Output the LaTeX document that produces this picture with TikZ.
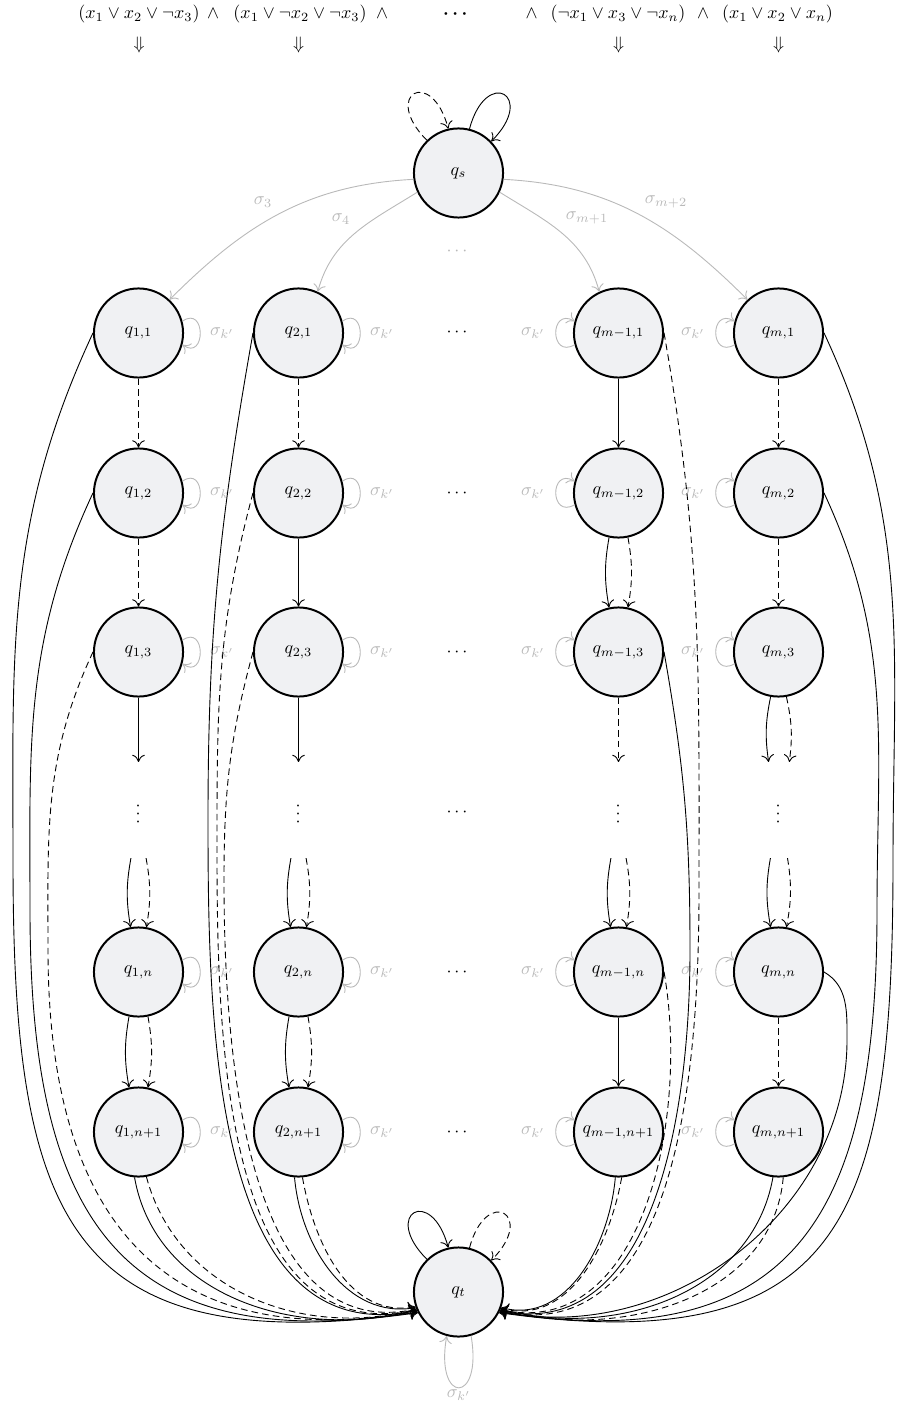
\documentclass[tikz,border=0pt]{standalone}
\usepackage{amsmath}
\usetikzlibrary{arrows.meta}
\definecolor{statefill}{RGB}{240,241,243}
\definecolor{soft}{RGB}{185,185,185}
\newcommand{\coldots}{\rotatebox{90}{$\cdots$}}
\begin{document}
\begin{tikzpicture}[x=0.5556pt,y=-0.5556pt,
  >={Computer Modern Rightarrow[length=4pt,width=7pt]},
  statenode/.style={circle,draw,line width=1.1pt,fill=statefill,minimum size=49.5pt,inner sep=0pt},
  vdotsnode/.style={inner sep=0pt},
  tr/.style={->,line width=0.5pt},
  trd/.style={->,line width=0.5pt,dash pattern=on 3.7pt off 2.3pt},
  soft edge/.style={->,line width=0.5pt,draw=soft},
  softlabel/.style={text=soft,inner sep=1pt},
]
\useasboundingbox (0,0) rectangle (902,1413);

% clauses of the formula
\node (f1) at (139,14) {$(x_1\vee x_2\vee\neg x_3)$};
\node (f2) at (213,14) {$\wedge$};
\node (f3) at (300,14) {$(x_1\vee\neg x_2\vee\neg x_3)$};
\node (f4) at (382,14) {$\wedge$};
\node (f5) at (457,14) {$\boldsymbol{\cdots}$};
\node (f6) at (531.5,14) {$\wedge$};
\node (f7) at (618,14) {$(\neg x_1\vee x_3\vee\neg x_n)$};
\node (f8) at (703,14) {$\wedge$};
\node (f9) at (777.5,14) {$(x_1\vee x_2\vee x_n)$};
\node (g1) at (139,45) {$\Downarrow$};
\node (g2) at (298.5,45) {$\Downarrow$};
\node (g3) at (618.5,45) {$\Downarrow$};
\node (g4) at (778.5,45) {$\Downarrow$};

% states
\node[statenode] (qs) at (458.5,173) {$q_s$};
\node[statenode] (qt) at (458.5,1292) {$q_t$};

\node[statenode] (a1) at (138.5,333) {$q_{1,1}$};
\node[statenode] (a2) at (138.5,493) {$q_{1,2}$};
\node[statenode] (a3) at (138.5,652) {$q_{1,3}$};
\node[vdotsnode] (av) at (138.5,812) {\coldots};
\node[statenode] (an) at (138.5,972) {$q_{1,n}$};
\node[statenode] (ap) at (138.5,1132) {$q_{1,n+1}$};

\node[statenode] (b1) at (298.5,333) {$q_{2,1}$};
\node[statenode] (b2) at (298.5,493) {$q_{2,2}$};
\node[statenode] (b3) at (298.5,652) {$q_{2,3}$};
\node[vdotsnode] (bv) at (298.5,812) {\coldots};
\node[statenode] (bn) at (298.5,972) {$q_{2,n}$};
\node[statenode] (bp) at (298.5,1132) {$q_{2,n+1}$};

\node[statenode] (c1) at (618.5,333) {$q_{m-1,1}$};
\node[statenode] (c2) at (618.5,493) {$q_{m-1,2}$};
\node[statenode] (c3) at (618.5,652) {$q_{m-1,3}$};
\node[vdotsnode] (cv) at (618.5,812) {\coldots};
\node[statenode] (cn) at (618.5,972) {$q_{m-1,n}$};
\node[statenode] (cp) at (618.5,1132) {$q_{m-1,n+1}$};

\node[statenode] (d1) at (778.5,333) {$q_{m,1}$};
\node[statenode] (d2) at (778.5,493) {$q_{m,2}$};
\node[statenode] (d3) at (778.5,652) {$q_{m,3}$};
\node[vdotsnode] (dv) at (778.5,812) {\coldots};
\node[statenode] (dn) at (778.5,972) {$q_{m,n}$};
\node[statenode] (dp) at (778.5,1132) {$q_{m,n+1}$};

% ends of the arrows around the vertical dots
\coordinate (avi) at ([yshift=27.8pt]av.center);
\coordinate (avo) at ([yshift=-25.6pt]av.center);
\coordinate (bvi) at ([yshift=27.8pt]bv.center);
\coordinate (bvo) at ([yshift=-25.6pt]bv.center);
\coordinate (cvi) at ([yshift=27.8pt]cv.center);
\coordinate (cvo) at ([yshift=-25.6pt]cv.center);
\coordinate (dvi) at ([yshift=27.8pt]dv.center);
\coordinate (dvo) at ([yshift=-25.6pt]dv.center);

% middle column
\node[text=soft] (hs) at (458.5,252) {$\cdots$};
\node (h1) at (458.5,333) {$\cdots$};
\node (h2) at (458.5,493) {$\cdots$};
\node (h3) at (458.5,652) {$\cdots$};
\node (hv) at (458.5,812) {$\cdots$};
\node (hn) at (458.5,972) {$\cdots$};
\node (hp) at (458.5,1132) {$\cdots$};

% edges leaving q_s
\draw[soft edge] (qs.188) to[out=183,in=45] (a1.47);
\draw[soft edge] (qs.205) to[out=212,in=75] (b1.65);
\draw[soft edge] (qs.-25) to[out=-32,in=105] (c1.115);
\draw[soft edge] (qs.-8) to[out=-3,in=135] (d1.133);
\node[softlabel] (s3) at (263,202) {$\sigma_3$};
\node[softlabel] (s4) at (341,219) {$\sigma_4$};
\node[softlabel] (sm1) at (587,218) {$\sigma_{m+1}$};
\node[softlabel] (sm2) at (666,202) {$\sigma_{m+2}$};

% self loops of q_s and q_t
\draw[trd] (qs.134) .. controls +(135:36pt) and +(105:36pt) .. (qs.103);
\draw[tr] (qs.76) .. controls +(75:36pt) and +(45:36pt) .. (qs.44);
\draw[tr] (qt.134) .. controls +(135:36pt) and +(105:36pt) .. (qt.103);
\draw[trd] (qt.76) .. controls +(75:36pt) and +(45:36pt) .. (qt.44);
\draw[soft edge] (qt.286) .. controls +(-80:39pt) and +(-100:39pt) .. (qt.255)
  node[pos=0.5,below,softlabel] (kqt) {$\sigma_{k'}$};

% sigma_{k'} loops
\foreach \n in {a1,a2,a3,an,ap,b1,b2,b3,bn,bp} {
  \draw[soft edge] (\n.15) .. controls +(35:16pt) and +(-35:16pt) .. (\n.-15);
  \node[softlabel] (k\n) at ([xshift=46.4pt]\n.center) {$\sigma_{k'}$};
}
\foreach \n in {c1,c2,c3,cn,cp,d1,d2,d3,dn,dp} {
  \draw[soft edge] (\n.195) .. controls +(210:16pt) and +(150:16pt) .. (\n.165);
  \node[softlabel] (k\n) at ([xshift=-47.5pt]\n.center) {$\sigma_{k'}$};
}

% column 1
\draw[trd] (a1) -- (a2);
\draw[trd] (a2) -- (a3);
\draw[tr] (a3) -- (avi);
\draw[tr] ([xshift=-4.2pt]avo) to[bend right=10] (an.100);
\draw[trd] ([xshift=4.2pt]avo) to[bend left=10] (an.80);
\draw[tr] (an.258) to[bend right=10] (ap.102);
\draw[trd] (an.282) to[bend left=10] (ap.78);

% column 2
\draw[trd] (b1) -- (b2);
\draw[tr] (b2) -- (b3);
\draw[tr] (b3) -- (bvi);
\draw[tr] ([xshift=-4.2pt]bvo) to[bend right=10] (bn.100);
\draw[trd] ([xshift=4.2pt]bvo) to[bend left=10] (bn.80);
\draw[tr] (bn.258) to[bend right=10] (bp.102);
\draw[trd] (bn.282) to[bend left=10] (bp.78);

% column m-1
\draw[tr] (c1) -- (c2);
\draw[tr] (c2.258) to[bend right=10] (c3.102);
\draw[trd] (c2.282) to[bend left=10] (c3.78);
\draw[trd] (c3) -- (cvi);
\draw[tr] ([xshift=-4.2pt]cvo) to[bend right=10] (cn.100);
\draw[trd] ([xshift=4.2pt]cvo) to[bend left=10] (cn.80);
\draw[tr] (cn) -- (cp);

% column m
\draw[trd] (d1) -- (d2);
\draw[trd] (d2) -- (d3);
\draw[tr] (d3.260) to[bend right=10] ([xshift=-5.5pt]dvi);
\draw[trd] (d3.280) to[bend left=10] ([xshift=6pt]dvi);
\draw[tr] ([xshift=-4.5pt]dvo) to[bend right=10] (dn.100);
\draw[trd] ([xshift=5pt]dvo) to[bend left=10] (dn.80);
\draw[trd] (dn) -- (dp);

% long edges into q_t, left side
\draw[tr] (a1.west) to[out=245,in=90] (13,860) to[out=-90,in=188,looseness=1.5] (qt.207);
\draw[tr] (a2.west) to[out=245,in=90] (30,910) to[out=-90,in=189,looseness=1.4] (qt.206);
\draw[trd] (a3.west) to[out=245,in=90] (48,950) to[out=-90,in=190,looseness=1.3] (qt.205);
\draw[tr] (ap.265) to[out=-80,in=195] (qt.203);
\draw[trd] (ap.280) to[out=-75,in=195] (qt.202);
\draw[tr] (b1.west) to[out=260,in=90] (208,820) to[out=-90,in=192] (qt.204);
\draw[trd] (b2.west) to[out=255,in=90] (217,850) to[out=-90,in=192] (qt.203);
\draw[trd] (b3.west) to[out=255,in=90] (224,880) to[out=-90,in=192,looseness=0.95] (qt.202);
\draw[tr] (bp.265) to[out=-85,in=190] (qt.200);
\draw[trd] (bp.275) to[out=-80,in=190] (qt.199);

% long edges into q_t, right side
\draw[trd] (c1.east) to[out=-80,in=90] (699,890) to[out=-90,in=-12] (qt.-25);
\draw[tr] (c3.east) to[out=-80,in=90] (690,950) to[out=-90,in=-12] (qt.-24);
\draw[trd] (cn.east) to[out=-80,in=-12,looseness=1.0] (qt.-23);
\draw[tr] (cp.266) to[out=-95,in=-15] (qt.-20);
\draw[trd] (cp.274) to[out=-100,in=-15] (qt.-21);
\draw[tr] (d1.east) to[out=-65,in=90] (893,860) to[out=-90,in=-8,looseness=1.5] (qt.-27);
\draw[tr] (d2.east) to[out=-65,in=90] (877,910) to[out=-90,in=-9,looseness=1.4] (qt.-26);
\draw[tr] (dn.east) to[out=-30,in=90] (847,1040) to[out=-90,in=-12,looseness=1.0] (qt.-25);
\draw[tr] (dp.263) to[out=-100,in=-15] (qt.-22);
\draw[trd] (dp.276) to[out=-95,in=-15] (qt.-23);
\end{tikzpicture}
\end{document}
